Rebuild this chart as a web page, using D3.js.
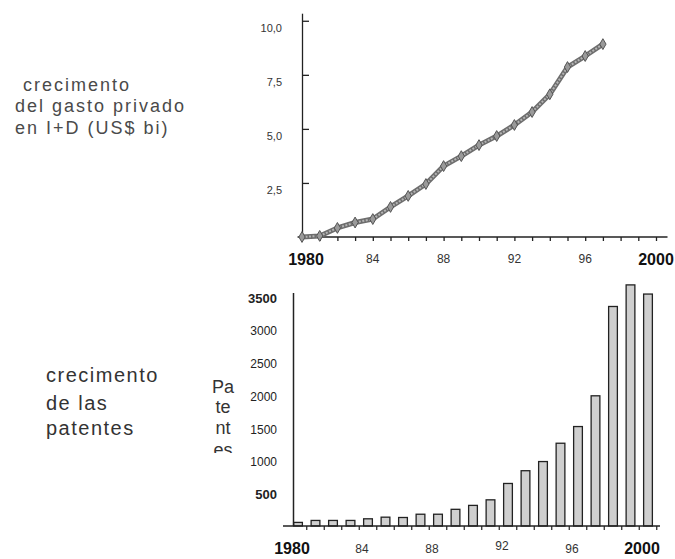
<!DOCTYPE html>
<html lang="es">
<head>
<meta charset="utf-8">
<title>Gasto privado en I+D y patentes</title>
<script src="https://cdn.jsdelivr.net/npm/d3@7"></script>
<style>
    body { margin: 0; padding: 0; background: #fff; }
    svg { display: block; font-family: Arial, "Liberation Sans", sans-serif; }
    .side { fill: #4a4a4a; font-size: 18px; letter-spacing: 2px; }
    .side2 { fill: #333; font-size: 20px; letter-spacing: 1.5px; }
    .ylab { fill: #333; font-size: 11px; }
    .ylab2 { fill: #222; font-size: 12px; }
    .xsmall { fill: #333; font-size: 12px; }
    .xbig { fill: #111; font-size: 16px; font-weight: bold; }
    .axis path, .axis line { stroke: #222; stroke-width: 1.3; }
</style>
</head>
<body>
<svg id="chart" width="675" height="559"></svg>
<script>
// --- data ---
var lineYears = d3.range(1980, 1998);
var gasto = [0.0, 0.05, 0.42, 0.67, 0.83, 1.39, 1.9, 2.45, 3.28, 3.74,
             4.25, 4.67, 5.18, 5.78, 6.6, 7.86, 8.37, 8.92];
var gastoTicks = [2.5, 5, 7.5, 10];

var barYears = d3.range(1980, 2001);
var patentes = [55, 85, 85, 85, 110, 135, 130, 180, 180, 255, 315,
                400, 650, 845, 985, 1265, 1520, 1990, 3355, 3685, 3545];
var patTicks = [500, 1000, 1500, 2000, 2500, 3000, 3500];
var boldPatTicks = [500, 3500];

var yearLabelYears = [1980, 1984, 1988, 1992, 1996, 2000];
var yearLabels = ["1980", "84", "88", "92", "96", "2000"];

var svg = d3.select("#chart");
svg.append("rect").attr("width", 675).attr("height", 559).attr("fill", "#fff");

function isBig(i) { return i === 0 || i === yearLabels.length - 1; }

// ================= top chart =================
var xTop = d3.scaleLinear().domain([1980, 2000]).range([302, 656]);
var yTop = d3.scaleLinear().domain([0, 10.35]).range([237, 13.2]);

// y axis, ticks pointing into the plot
svg.append("g").attr("class", "axis")
    .attr("transform", "translate(" + xTop(1980) + ",0)")
    .call(d3.axisRight(yTop).tickValues(gastoTicks).tickSize(7).tickSizeOuter(0).tickFormat(""));

// x axis
var gx = svg.append("g").attr("class", "axis")
    .attr("transform", "translate(0," + yTop(0) + ")")
    .call(d3.axisBottom(xTop).tickValues(d3.range(1981, 2001)).tickSize(4).tickSizeOuter(0).tickFormat(""));
gx.select(".domain").remove();
gx.append("line").attr("x1", xTop(1979.75)).attr("x2", xTop(2000.65))
    .attr("stroke", "#222").attr("stroke-width", 1.3);

svg.selectAll(".ytop").data(gastoTicks).enter().append("text")
    .attr("class", "ylab")
    .attr("x", 282).attr("y", function(d) { return yTop(d) + 7; })
    .attr("dy", ".35em").attr("text-anchor", "end")
    .text(function(d) { return d.toFixed(1).replace(".", ","); });

svg.selectAll(".xtop").data(yearLabelYears).enter().append("text")
    .attr("class", function(d, i) { return isBig(i) ? "xbig" : "xsmall"; })
    .attr("x", function(d, i) { return xTop(d) + (i === 0 ? 4 : 0); })
    .attr("y", function(d, i) { return isBig(i) ? 265 : 263; })
    .attr("text-anchor", "middle")
    .text(function(d, i) { return yearLabels[i]; });

var line = d3.line()
    .x(function(d, i) { return xTop(lineYears[i]); })
    .y(function(d) { return yTop(d); });

svg.append("path").datum(gasto)
    .attr("d", line).attr("fill", "none")
    .attr("stroke", "#6e6e6e").attr("stroke-width", 5).attr("stroke-linejoin", "round");
svg.append("path").datum(gasto)
    .attr("d", line).attr("fill", "none")
    .attr("stroke", "#b4b4b4").attr("stroke-width", 2).attr("stroke-dasharray", "2,1.5");

svg.selectAll(".mk").data(gasto).enter().append("path")
    .attr("d", d3.symbol().type(d3.symbolDiamond).size(34))
    .attr("transform", function(d, i) { return "translate(" + xTop(lineYears[i]) + "," + yTop(d) + ")"; })
    .attr("fill", "#9a9a9a").attr("stroke", "#555").attr("stroke-width", 1);

// side text top
var sideTop = [["crecimento", 23, 91], ["del gasto privado", 15, 112], ["en I+D (US$ bi)", 15, 134]];
svg.selectAll(".st").data(sideTop).enter().append("text")
    .attr("class", "side")
    .attr("x", function(d) { return d[1]; }).attr("y", function(d) { return d[2]; })
    .text(function(d) { return d[0]; });

// ================= bottom chart =================
var xBot = d3.scaleBand().domain(barYears).range([289.25, 656.75])
    .paddingInner(0.5).paddingOuter(0.25);
var yBot = d3.scaleLinear().domain([0, 3500]).range([526, 297]);
var step = xBot.step();

svg.selectAll(".bar").data(patentes).enter().append("rect")
    .attr("x", function(d, i) { return xBot(barYears[i]); })
    .attr("y", function(d) { return yBot(d); })
    .attr("width", xBot.bandwidth())
    .attr("height", function(d) { return yBot(0) - yBot(d); })
    .attr("fill", "#cfcfcf").attr("stroke", "#222").attr("stroke-width", 1.3);

// x axis with ticks between bars
svg.append("line").attr("x1", 283).attr("x2", 660)
    .attr("y1", yBot(0)).attr("y2", yBot(0))
    .attr("stroke", "#222").attr("stroke-width", 1.3);
svg.selectAll(".btick").data(barYears).enter().append("line")
    .attr("x1", function(d) { return xBot(d) + xBot.bandwidth() / 2 + step / 2; })
    .attr("x2", function(d) { return xBot(d) + xBot.bandwidth() / 2 + step / 2; })
    .attr("y1", yBot(0)).attr("y2", yBot(0) + 4)
    .attr("stroke", "#222").attr("stroke-width", 1.2);

// y axis line
svg.append("line").attr("x1", 293.5).attr("x2", 293.5)
    .attr("y1", 293).attr("y2", yBot(0))
    .attr("stroke", "#222").attr("stroke-width", 1.5);

svg.selectAll(".ybot").data(patTicks).enter().append("text")
    .attr("class", "ylab2")
    .attr("x", 277).attr("y", function(d) { return yBot(d) + 1.5; })
    .attr("dy", ".35em").attr("text-anchor", "end")
    .style("font-weight", function(d) { return boldPatTicks.indexOf(d) >= 0 ? "bold" : "normal"; })
    .style("font-size", function(d) { return boldPatTicks.indexOf(d) >= 0 ? "13px" : "12px"; })
    .text(function(d) { return d; });

svg.selectAll(".xbot").data(yearLabelYears).enter().append("text")
    .attr("class", function(d, i) { return isBig(i) ? "xbig" : "xsmall"; })
    .attr("x", function(d) { return xBot(d) + xBot.bandwidth() / 2 - 6; })
    .attr("y", function(d, i) { return isBig(i) ? 554 : (d === 1992 ? 550 : 553); })
    .attr("text-anchor", "middle")
    .text(function(d, i) { return yearLabels[i]; });

// y axis title, broken into syllables, last one cut off
svg.append("clipPath").attr("id", "cut")
    .append("rect").attr("x", 190).attr("y", 370).attr("width", 60).attr("height", 83);
var patTitle = [["Pa", 393], ["te", 413], ["nt", 434], ["es", 456]];
svg.append("g").attr("clip-path", "url(#cut)")
    .selectAll("text").data(patTitle).enter().append("text")
    .attr("x", 223).attr("y", function(d) { return d[1]; })
    .attr("text-anchor", "middle")
    .attr("fill", "#333").style("font-size", "18px")
    .text(function(d) { return d[0]; });

// side text bottom
var sideBot = [["crecimento", 382], ["de las", 410], ["patentes", 435]];
svg.selectAll(".sb").data(sideBot).enter().append("text")
    .attr("class", "side2")
    .attr("x", 46).attr("y", function(d) { return d[1]; })
    .text(function(d) { return d[0]; });
</script>
</body>
</html>
